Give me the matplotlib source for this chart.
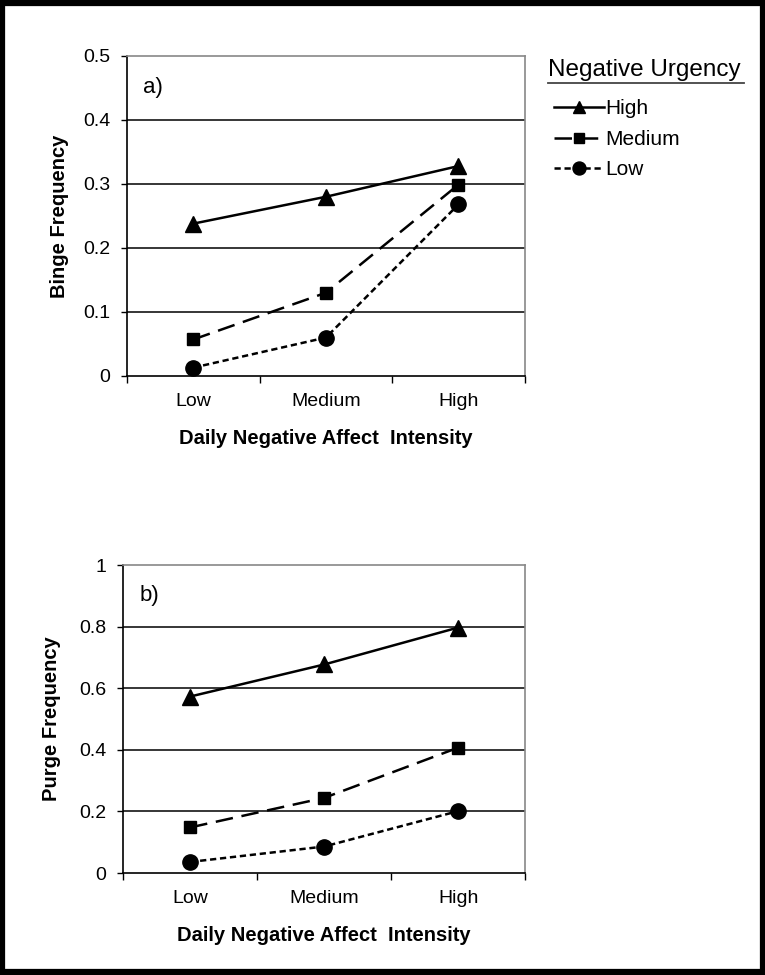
import matplotlib.pyplot as plt
from matplotlib.patches import Rectangle

plt.rcParams['font.family'] = ['Liberation Sans', 'DejaVu Sans']

categories = ['Low', 'Medium', 'High']
groups = ['High', 'Medium', 'Low']

binge_high = [0.238, 0.28, 0.328]
binge_medium = [0.057, 0.13, 0.299]
binge_low = [0.013, 0.06, 0.268]

purge_high = [0.573, 0.677, 0.797]
purge_medium = [0.148, 0.244, 0.407]
purge_low = [0.036, 0.086, 0.201]

styles = {
    'High': dict(linestyle='-', marker='^', markersize=11),
    'Medium': dict(linestyle=(0, (7, 3.5)), marker='s', markersize=9),
    'Low': dict(linestyle=(0, (2.5, 1.5)), marker='o', markersize=11),
}


def draw_panel(ax, series, ymax, ystep, ylabel, tag, ypad):
    x = list(range(1, len(categories) + 1))
    lines = []
    for name, vals in zip(groups, series):
        ln, = ax.plot(x, vals, color='black', linewidth=1.8,
                      label=name, clip_on=False, zorder=3, **styles[name])
        lines.append(ln)
    ax.set_xlim(0.5, 3.5)
    ax.set_ylim(0, ymax)
    yt = [round(i * ystep, 2) for i in range(int(round(ymax / ystep)) + 1)]
    ax.set_yticks(yt)
    ax.set_yticklabels([f'{v:g}' for v in yt])
    ax.set_xticks(x)
    ax.set_xticklabels(categories)
    ax.set_xticks([0.5, 1.5, 2.5, 3.5], minor=True)
    ax.tick_params(axis='x', which='major', length=0, pad=12, labelsize=14)
    ax.tick_params(axis='x', which='minor', length=5, width=1, direction='out')
    ax.tick_params(axis='y', length=4, width=1, direction='out', labelsize=14, pad=8)
    for t in yt[1:-1]:
        ax.axhline(t, color='black', linewidth=1.1, zorder=1)
    for s in ['top', 'right']:
        ax.spines[s].set_color('#888888')
        ax.spines[s].set_linewidth(1.2)
    for s in ['left', 'bottom']:
        ax.spines[s].set_color('black')
        ax.spines[s].set_linewidth(1.2)
    ax.set_ylabel(ylabel, fontsize=14.5, fontweight='bold', labelpad=ypad)
    ax.set_xlabel('Daily Negative Affect  Intensity', fontsize=14.5,
                  fontweight='bold', labelpad=14)
    ax.text(0.04, 0.9, tag, transform=ax.transAxes, fontsize=16, va='center')
    return lines


fig = plt.figure(figsize=(7.65, 9.75), dpi=100)
ax1 = fig.add_axes([0.166, 0.6144, 0.520, 0.3282])
ax2 = fig.add_axes([0.161, 0.1046, 0.5255, 0.3159])

lines = draw_panel(ax1, [binge_high, binge_medium, binge_low], 0.5, 0.1,
                   'Binge Frequency', 'a)', 10)
draw_panel(ax2, [purge_high, purge_medium, purge_low], 1.0, 0.2,
           'Purge Frequency', 'b)', 13)

fig.text(0.716, 0.928, 'Negative Urgency', fontsize=17.5, va='center')
fig.add_artist(plt.Line2D([0.716, 0.972], [0.915, 0.915], color='#444444',
                          linewidth=1.3, transform=fig.transFigure))
fig.legend(lines, groups, loc='upper left', bbox_to_anchor=(0.705, 0.913),
           frameon=False, fontsize=15, handlelength=2.4, handletextpad=0.05,
           labelspacing=0.55, borderpad=0.2, markerscale=0.85)

fig.add_artist(Rectangle((0.003, 0.003), 0.994, 0.994, transform=fig.transFigure,
                         fill=False, edgecolor='black', linewidth=4.5))

fig.savefig('out.png', dpi=100)
